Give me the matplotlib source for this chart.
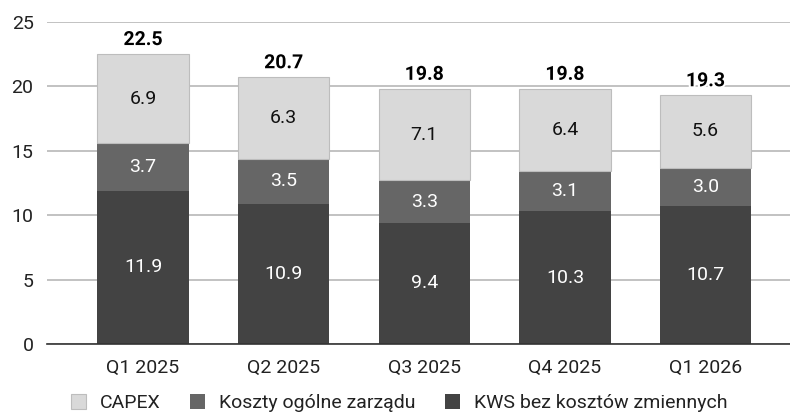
import matplotlib.pyplot as plt
import matplotlib.patheffects as pe
import numpy as np

plt.rcParams['font.family'] = ['Roboto', 'DejaVu Sans']

quarters = ["Q1 2025", "Q2 2025", "Q3 2025", "Q4 2025", "Q1 2026"]
kws = [11.9, 10.9, 9.4, 10.3, 10.7]
koszty = [3.7, 3.5, 3.3, 3.1, 3.0]
capex = [6.9, 6.3, 7.1, 6.4, 5.6]
totals = [22.5, 20.7, 19.8, 19.8, 19.3]

c_kws = "#434343"
c_koszty = "#666666"
c_capex = "#d9d9d9"

fig = plt.figure(figsize=(7.9, 4.15), dpi=100)
ax = fig.add_axes([0.06, 0.171, 0.94, 0.776])

x = np.arange(len(quarters))
w = 0.65
kws = np.array(kws)
koszty = np.array(koszty)
capex = np.array(capex)

b1 = ax.bar(x, kws, w, color=c_kws, label="KWS bez kosztów zmiennych", zorder=3)
b2 = ax.bar(x, koszty, w, bottom=kws, color=c_koszty, label="Koszty ogólne zarządu", zorder=3)
b3 = ax.bar(x, capex, w, bottom=kws + koszty, color=c_capex, edgecolor="#bdbdbd",
            linewidth=0.8, label="CAPEX", zorder=3)

fs = 14
for i in range(len(x)):
    ax.text(x[i], kws[i] / 2, f"{kws[i]:.1f}", ha="center", va="center",
            color="white", fontsize=fs, zorder=4)
    ax.text(x[i], kws[i] + koszty[i] / 2, f"{koszty[i]:.1f}", ha="center", va="center",
            color="white", fontsize=fs, zorder=4)
    ax.text(x[i], kws[i] + koszty[i] + capex[i] / 2, f"{capex[i]:.1f}", ha="center",
            va="center", color="#111111", fontsize=fs, zorder=4)
    ax.text(x[i], totals[i] + 0.4, f"{totals[i]:.1f}", ha="center", va="bottom",
            color="black", fontsize=fs, fontweight="bold", zorder=5,
            path_effects=[pe.withStroke(linewidth=3, foreground="white")])

ax.set_ylim(0, 25)
ax.set_xlim(-0.68, 4.6)
ax.set_yticks([0, 5, 10, 15, 20, 25])
ax.set_xticks(x)
ax.set_xticklabels(quarters)
ax.tick_params(axis="both", length=0, labelsize=fs, colors="#222222")
ax.tick_params(axis="x", pad=11)
ax.tick_params(axis="y", pad=10)
ax.yaxis.grid(True, color="#b7b7b7", linewidth=1.2, zorder=0)
ax.set_axisbelow(True)
for s in ["top", "right", "left"]:
    ax.spines[s].set_visible(False)
ax.spines["bottom"].set_color("#333333")
ax.spines["bottom"].set_linewidth(1.2)
ax.spines["bottom"].set_zorder(5)

handles = [b3, b2, b1]
leg = fig.legend(handles, [h.get_label() for h in handles], loc="lower center",
                 bbox_to_anchor=(0.505, -0.035), ncol=3, frameon=False, fontsize=14,
                 handlelength=0.8, handleheight=0.8, handletextpad=0.7, columnspacing=1.5)
for t in leg.get_texts():
    t.set_color("#222222")

fig.savefig("out.png", dpi=100)
